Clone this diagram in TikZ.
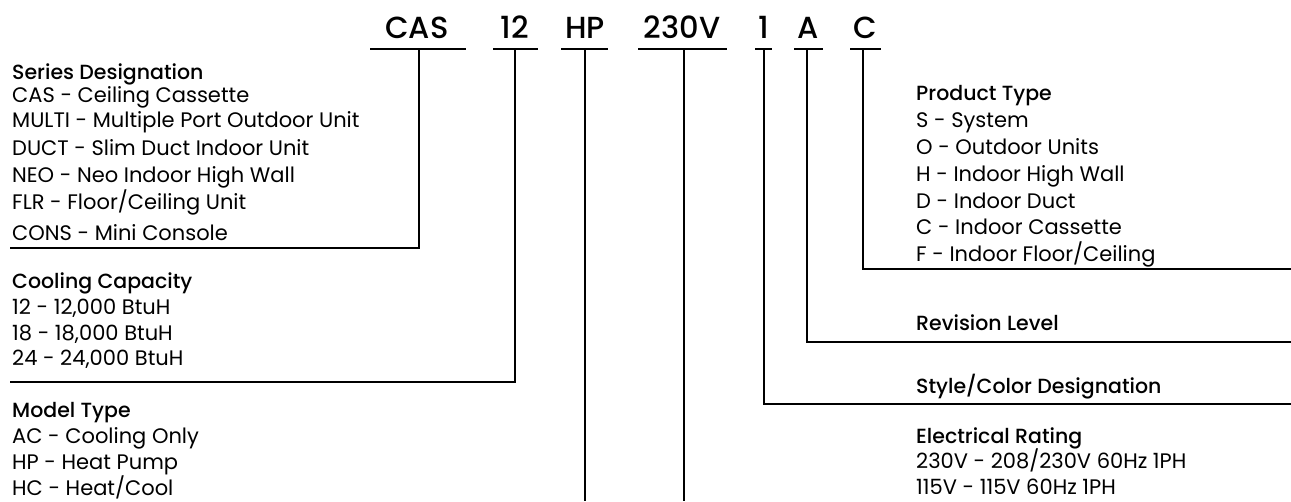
\documentclass[tikz,border=0pt]{standalone}
\usepackage{fontspec}
\setmainfont{Poppins}
\newfontfamily\medfont{Poppins Medium}
\begin{document}
\begin{tikzpicture}[x=1pt,y=-1pt,
  wire/.style={line width=2.6pt,black},
  code/.style={anchor=base,inner sep=0pt,font=\medfont\fontsize{30.5}{30.5}\selectfont},
  head/.style={anchor=base west,inner sep=0pt,font=\medfont\fontsize{20.5}{20.5}\selectfont},
  item/.style={anchor=base west,inner sep=0pt,font=\fontsize{21}{21}\selectfont}]
\useasboundingbox (0,0) rectangle (1291,501);
% codes
\node[code] (cas) at (417,38) {CAS};
\node[code] (c12) at (515,38) {12};
\node[code] (hp) at (585,38) {HP};
\node[code] (volt) at (682,38) {230V};
\node[code] (one) at (764,38) {1};
\node[code] (rev) at (808,38) {A};
\node[code] (ptype) at (865,38) {C};
% underlines
\draw[wire] (370,49) -- (466,49);
\draw[wire] (493,49) -- (538,49);
\draw[wire] (561,49) -- (608,49);
\draw[wire] (638,49) -- (727,49);
\draw[wire] (755,49) -- (772,49);
\draw[wire] (794,49) -- (823,49);
\draw[wire] (850,49) -- (881,49);
% stem tops
\coordinate (casT) at (419,49);
\coordinate (c12T) at (515,49);
\coordinate (hpT) at (585,49);
\coordinate (voltT) at (684,49);
\coordinate (oneT) at (764,49);
\coordinate (revT) at (807,49);
\coordinate (ptypeT) at (863,49);
% ends
\coordinate (casE) at (10,248);
\coordinate (c12E) at (10,382);
\coordinate (hpE) at (585,501);
\coordinate (voltE) at (684,501);
\coordinate (oneE) at (1291,404);
\coordinate (revE) at (1291,342);
\coordinate (ptypeE) at (1291,269);
% connectors
\draw[wire] (casT) |- (casE);
\draw[wire] (c12T) |- (c12E);
\draw[wire] (hpT) -- (hpE);
\draw[wire] (voltT) -- (voltE);
\draw[wire] (oneT) |- (oneE);
\draw[wire] (revT) |- (revE);
\draw[wire] (ptypeT) |- (ptypeE);
% left texts
\node[head] (sd) at (12,79) {Series Designation};
\node[item] (sd1) at (12,102) {CAS - Ceiling Cassette};
\node[item] (sd2) at (12,127) {MULTI - Multiple Port Outdoor Unit};
\node[item] (sd3) at (12,155) {DUCT - Slim Duct Indoor Unit};
\node[item] (sd4) at (12,182) {NEO - Neo Indoor High Wall};
\node[item] (sd5) at (12,209) {FLR - Floor/Ceiling Unit};
\node[item] (sd6) at (12,240) {CONS - Mini Console};
\node[head] (cc) at (12,288) {Cooling Capacity};
\node[item] (cc1) at (12,314) {12 - 12,000 BtuH};
\node[item] (cc2) at (12,340) {18 - 18,000 BtuH};
\node[item] (cc3) at (12,365) {24 - 24,000 BtuH};
\node[head] (mt) at (12,417) {Model Type};
\node[item] (mt1) at (12,443) {AC - Cooling Only};
\node[item] (mt2) at (12,469) {HP - Heat Pump};
\node[item] (mt3) at (12,495) {HC - Heat/Cool};
% right texts
\node[head] (pt) at (916,100) {Product Type};
\node[item] (pt1) at (916,127) {S - System};
\node[item] (pt2) at (916,154) {O - Outdoor Units};
\node[item] (pt3) at (916,181) {H - Indoor High Wall};
\node[item] (pt4) at (916,208) {D - Indoor Duct};
\node[item] (pt5) at (916,234) {C - Indoor Cassette};
\node[item] (pt6) at (916,261) {F - Indoor Floor/Ceiling};
\node[head] (rl) at (916,330) {Revision Level};
\node[head] (sc) at (916,393) {Style/Color Designation};
\node[head] (er) at (916,443) {Electrical Rating};
\node[item] (er1) at (916,468) {230V - 208/230V 60Hz 1PH};
\node[item] (er2) at (916,494) {115V - 115V 60Hz 1PH};
\end{tikzpicture}
\end{document}
